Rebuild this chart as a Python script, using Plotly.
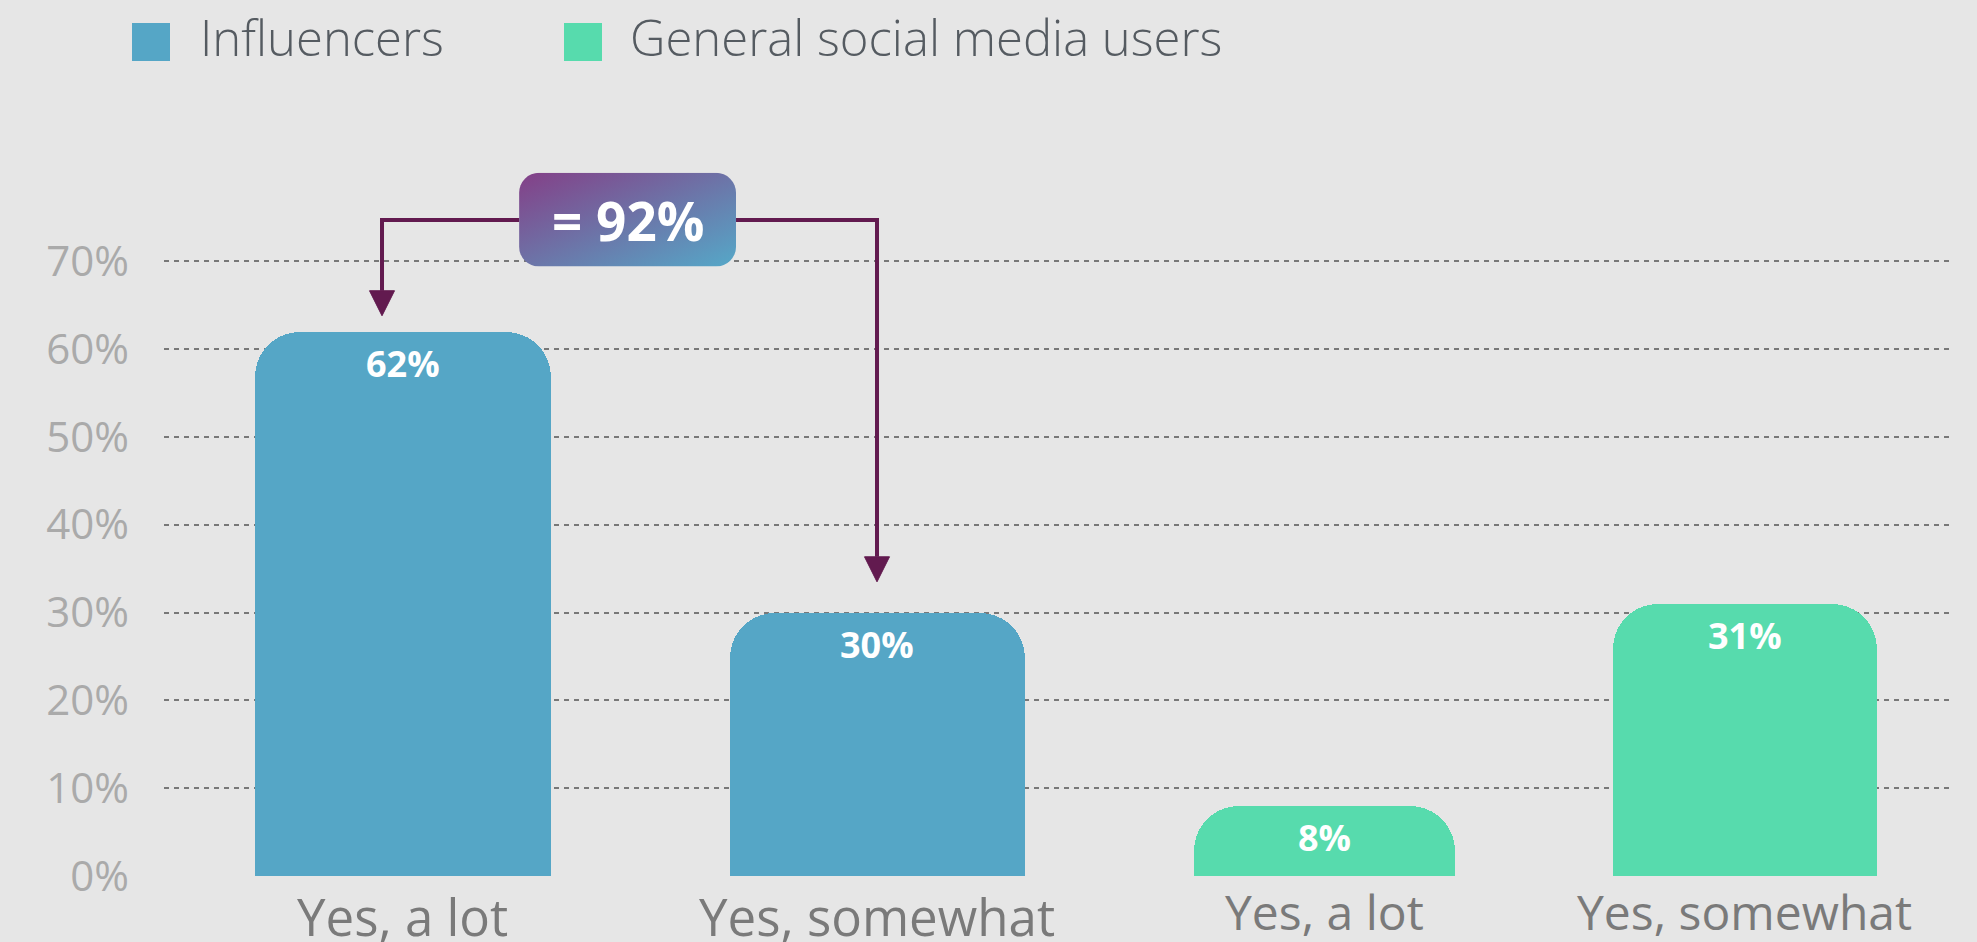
import base64
import plotly.graph_objects as go

# ---- data -------------------------------------------------------------
categories = ["Yes, a lot", "Yes, somewhat"]
series_names = ["Influencers", "General social media users"]
influencers = [62, 30]
general_users = [8, 31]
y_ticks = [0, 10, 20, 30, 40, 50, 60, 70]

# ---- layout constants -------------------------------------------------
W, H = 1977, 942
M_L, M_R, M_T, M_B = 164, 26, 170, 66
PLOT_W = W - M_L - M_R
PLOT_H = H - M_T - M_B
X_RANGE = [0, 10]
Y_RANGE = [0, 80.4]

# slot centres / widths on the x axis (axis units)
slot_centers = [1.337, 3.99, 6.494, 8.847]
slot_widths = [1.656, 1.651, 1.46, 1.477]

BG = "#e6e6e6"
BLUE = "#55a6c6"
GREEN = "#57dbad"
ARROW = "#621a4f"
FONT = "Open Sans"


def px_to_paper(px, py):
    return (px - M_L) / PLOT_W, (H - M_B - py) / PLOT_H


fig = go.Figure()

fig.add_trace(go.Bar(
    name=series_names[0], x=slot_centers[:2], y=influencers,
    width=slot_widths[:2], marker=dict(color=BLUE, cornerradius=45, line_width=0),
    hoverinfo="skip", showlegend=False,
))
fig.add_trace(go.Bar(
    name=series_names[1], x=slot_centers[2:], y=general_users,
    width=slot_widths[2:], marker=dict(color=GREEN, cornerradius=45, line_width=0),
    hoverinfo="skip", showlegend=False,
))

annotations = []
shapes = []

# value labels just inside the top of each bar
for xc, v in zip(slot_centers, influencers + general_users):
    annotations.append(dict(
        x=xc, y=v, xref="x", yref="y", text=f"{v}%", showarrow=False,
        yanchor="top", yshift=-5,
        font=dict(family=FONT, size=36, color="white", weight="bold"),
    ))

# category labels under each bar (influencer group set slightly larger)
label_sizes = [51, 51, 48, 48]
label_shift = [-3, -3, -1, -1]
for xc, cat, fs, ys in zip(slot_centers, categories * 2, label_sizes, label_shift):
    annotations.append(dict(
        x=xc, y=0, xref="x", yref="paper", text=cat, showarrow=False,
        xanchor="center", yanchor="top", yshift=ys,
        font=dict(family=FONT, size=fs, color="#7a7a7a"),
    ))

# manual legend with large square swatches
legend_items = [(132, 200, BLUE, series_names[0]), (564, 630, GREEN, series_names[1])]
for sq_x, txt_x, col, label in legend_items:
    x0, y0 = px_to_paper(sq_x, 61)
    x1, y1 = px_to_paper(sq_x + 38, 23)
    shapes.append(dict(type="rect", xref="paper", yref="paper", x0=x0, y0=y0,
                       x1=x1, y1=y1, fillcolor=col, line_width=0, layer="above"))
    tx, ty = px_to_paper(txt_x - 2, 37)
    annotations.append(dict(
        x=tx, y=ty, xref="paper", yref="paper", text=label, showarrow=False,
        xanchor="left", yanchor="middle",
        font=dict(family=FONT, size=49, color="#555b61", weight=300),
    ))

# combined-total badge with elbow arrows to the two influencer bars
total = sum(influencers)
box_x0, box_x1 = 1.987, 3.201
box_y0, box_y1 = 69.4, 80.08
conn_y = 74.7
left_x = 1.22
right_x = slot_centers[1]
left_tip = influencers[0] + 1.8
right_tip = influencers[1] + 3.5
head_len, head_half = 2.85, 0.07

gradient_svg = (
    '<svg xmlns="http://www.w3.org/2000/svg" width="217" height="94" '
    'viewBox="0 0 217 94" preserveAspectRatio="none">'
    '<defs><linearGradient id="g" x1="0" y1="0" x2="1" y2="1">'
    '<stop offset="0" stop-color="#843f87"/>'
    '<stop offset="1" stop-color="#55a8c8"/></linearGradient></defs>'
    '<rect width="217" height="94" rx="20" ry="20" fill="url(#g)"/></svg>'
)
badge_src = "data:image/svg+xml;base64," + base64.b64encode(gradient_svg.encode()).decode()

images = [dict(
    source=badge_src, xref="x", yref="y", x=box_x0, y=box_y1,
    sizex=box_x1 - box_x0, sizey=box_y1 - box_y0,
    xanchor="left", yanchor="top", sizing="stretch", layer="above",
)]

line_style = dict(color=ARROW, width=4)
shapes.append(dict(
    type="path", xref="x", yref="y", layer="above", line=line_style,
    path=f"M {left_x},{left_tip + head_len} L {left_x},{conn_y} L {box_x0},{conn_y}",
))
shapes.append(dict(
    type="path", xref="x", yref="y", layer="above", line=line_style,
    path=f"M {box_x1},{conn_y} L {right_x},{conn_y} L {right_x},{right_tip + head_len}",
))
for hx, tip in [(left_x, left_tip), (right_x, right_tip)]:
    shapes.append(dict(
        type="path", xref="x", yref="y", layer="above",
        fillcolor=ARROW, line=dict(color=ARROW, width=1),
        path=(f"M {hx - head_half},{tip + head_len} L {hx + head_half},{tip + head_len} "
              f"L {hx},{tip} Z"),
    ))

annotations.append(dict(
    x=(box_x0 + box_x1) / 2, y=conn_y, xref="x", yref="y",
    text=f"= {total}%", showarrow=False, xanchor="center", yanchor="middle",
    font=dict(family=FONT, size=53, color="white", weight="bold"),
))

fig.update_layout(
    width=W, height=H,
    margin=dict(l=M_L, r=M_R, t=M_T, b=M_B, pad=0, autoexpand=False),
    paper_bgcolor=BG, plot_bgcolor=BG,
    showlegend=False,
    bargap=0,
    annotations=annotations,
    shapes=shapes,
    images=images,
    xaxis=dict(
        range=X_RANGE, showticklabels=False,
        showgrid=False, zeroline=False, showline=False, ticks="",
        automargin=False, fixedrange=True,
    ),
    yaxis=dict(
        range=Y_RANGE, tickvals=y_ticks, ticktext=[f"{t}%" for t in y_ticks],
        showgrid=True, gridcolor="#787878", gridwidth=2, griddash="5px,5px",
        zeroline=True, zerolinecolor=BG, zerolinewidth=3,
        showline=False, ticks="", ticklabelstandoff=34,
        tickfont=dict(family=FONT, size=42, color="#aaaaaa"),
        automargin=False, fixedrange=True,
    ),
)

fig.write_html("out.html", config={"displayModeBar": False})
